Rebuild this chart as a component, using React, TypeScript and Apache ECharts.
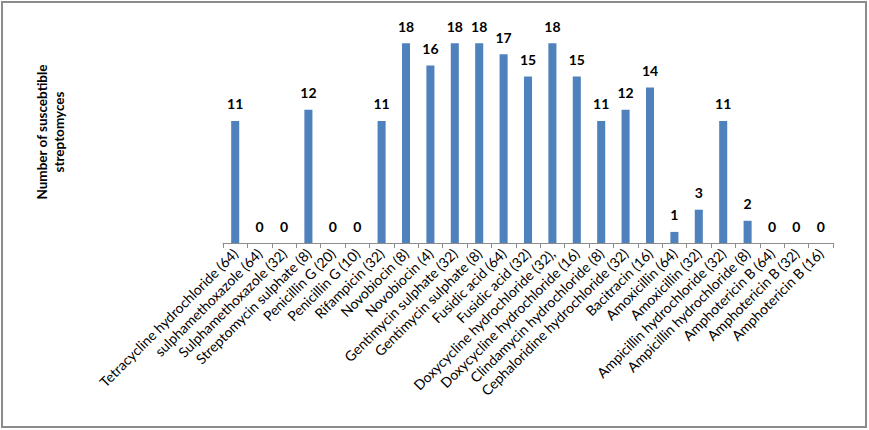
import React, { useEffect, useRef } from "react";
import * as echarts from "echarts";

const categories = [
  "Tetracycline hydrochloride (64)",
  "sulphamethoxazole (64)",
  "Sulphamethoxazole (32)",
  "Streptomycin sulphate (8)",
  "Penicillin G (20)",
  "Penicillin G (10)",
  "Rifampicin (32)",
  "Novobiocin (8)",
  "Novobiocin (4)",
  "Gentimycin sulphate (32)",
  "Gentimycin sulphate (8)",
  "Fusidic acid (64)",
  "Fusidic acid (32)",
  "Doxycycline hydrochloride (32),",
  "Doxycycline hydrochloride (16)",
  "Clindamycin hydrochloride (8)",
  "Cephaloridine hydrochloride (32)",
  "Bacitracin (16)",
  "Amoxicillin (64)",
  "Amoxicillin (32)",
  "Ampicillin hydrochloride (32)",
  "Ampicillin hydrochloride (8)",
  "Amphotericin B (64)",
  "Amphotericin B (32)",
  "Amphotericin B (16)",
];

const values = [11, 0, 0, 12, 0, 0, 11, 18, 16, 18, 18, 17, 15, 18, 15, 11, 12, 14, 1, 3, 11, 2, 0, 0, 0];

const yTitle = "Number of suscebtible\nstreptomyces";

export default function App() {
  const ref = useRef<HTMLDivElement>(null);
  useEffect(() => {
    document.body.style.margin = "0";
    const chart = echarts.init(ref.current!, null, { renderer: "svg" });
    chart.setOption({
      animation: false,
      backgroundColor: "#ffffff",
      textStyle: { fontFamily: "Lato" },
      graphic: [
        {
          type: "rect",
          shape: { x: 2, y: 2, width: 864, height: 425 },
          style: { fill: "none", stroke: "#8c8c8c", lineWidth: 2 },
        },
      ],
      grid: { left: 223, right: 36, top: 21, bottom: 187 },
      xAxis: {
        type: "category",
        data: categories,
        axisLine: { lineStyle: { color: "#8c8c8c", width: 1 } },
        axisTick: { show: true, alignWithLabel: false, length: 5, lineStyle: { color: "#8c8c8c" } },
        axisLabel: {
          interval: 0,
          rotate: 45,
          color: "#000",
          fontFamily: "Lato",
          fontSize: 14,
          margin: 8,
        },
      },
      yAxis: {
        type: "value",
        min: 0,
        max: 20,
        axisLine: { show: false },
        axisTick: { show: false },
        axisLabel: { show: false },
        splitLine: { show: false },
        name: yTitle,
        nameLocation: "middle",
        nameRotate: 90,
        nameGap: 156,
        nameTextStyle: {
          fontFamily: "Lato",
          fontWeight: "bold",
          fontSize: 13.5,
          color: "#000",
          lineHeight: 17,
        },
      },
      series: [
        {
          type: "bar",
          data: values,
          barWidth: "33%",
          itemStyle: { color: "#4f81bd" },
          label: {
            show: true,
            position: "top",
            distance: 10,
            color: "#000",
            fontFamily: "Lato",
            fontWeight: "bold",
            fontSize: 14,
          },
        },
      ],
    });
    return () => chart.dispose();
  }, []);
  return <div ref={ref} style={{ width: 869, height: 430 }} />;
}
